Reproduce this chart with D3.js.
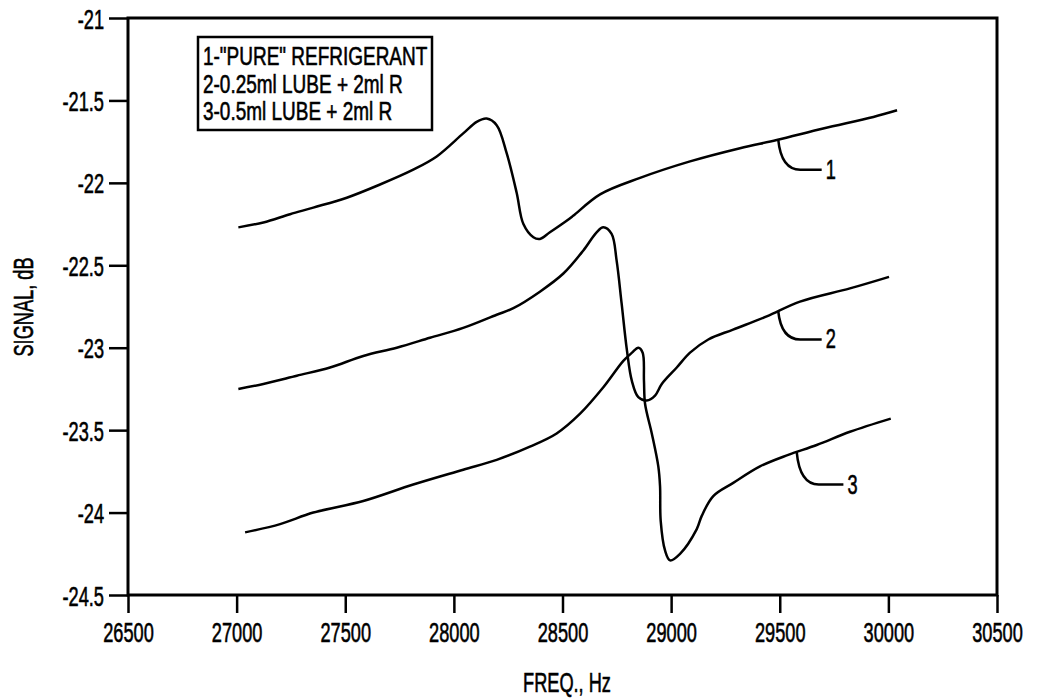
<!DOCTYPE html>
<html>
<head>
<meta charset="utf-8">
<script src="https://cdn.jsdelivr.net/npm/d3@7"></script>
<style>
    body { margin: 0; background: #fff; }
    svg { display: block; }
    text { font-family: "Liberation Sans", Arial, sans-serif; fill: #000; stroke: #000; stroke-width: 0.6px; }
</style>
</head>
<body>
<svg id="chart" width="1038" height="699"></svg>
<script>
// tick values
var xTicks = [26500, 27000, 27500, 28000, 28500, 29000, 29500, 30000, 30500];
var yTicks = [-21, -21.5, -22, -22.5, -23, -23.5, -24, -24.5];

// curve 1 - "pure" refrigerant
var freq1 = [27008, 27123, 27246, 27353, 27507, 27660, 27813, 27921, 28043, 28105, 28151, 28197, 28243, 28289,
    28320, 28366, 28396, 28442, 28519, 28549, 28673, 28857, 29087, 29317, 29486, 29700, 29931, 30040];
var sig1 = [-22.27, -22.24, -22.19, -22.15, -22.09, -22.01, -21.92, -21.84, -21.70, -21.63, -21.61, -21.65, -21.82, -22.06,
    -22.25, -22.33, -22.34, -22.30, -22.23, -22.20, -22.07, -21.97, -21.87, -21.79, -21.74, -21.67, -21.60, -21.56];

// curve 2 - 0.25ml lube + 2ml R
var freq2 = [27008, 27123, 27277, 27430, 27583, 27737, 27890, 28043, 28197, 28274, 28396, 28504, 28596, 28657, 28688, 28726,
    28749, 28772, 28796, 28819, 28849, 28888, 28926, 28957, 29026, 29087, 29171, 29285, 29440, 29593, 29823, 30003];
var sig2 = [-23.25, -23.22, -23.17, -23.12, -23.05, -23.00, -22.94, -22.88, -22.80, -22.76, -22.66, -22.55, -22.41, -22.30, -22.27, -22.31,
    -22.47, -22.73, -23.01, -23.20, -23.30, -23.32, -23.29, -23.22, -23.12, -23.03, -22.95, -22.89, -22.81, -22.72, -22.64, -22.57];

// curve 3 - 0.5ml lube + 2ml R
var freq3 = [27039, 27200, 27353, 27583, 27813, 28043, 28197, 28350, 28473, 28581, 28688, 28780, 28820, 28849, 28869, 28875, 28880,
    28911, 28941, 28949, 28952, 28972, 28995, 29041, 29118, 29141, 29194, 29286, 29409, 29539, 29670, 29823, 30011];
var sig3 = [-24.12, -24.07, -24.00, -23.93, -23.83, -23.74, -23.68, -23.60, -23.52, -23.40, -23.24, -23.08, -23.03, -23.00, -23.03, -23.20, -23.34,
    -23.52, -23.72, -23.84, -24.05, -24.23, -24.29, -24.25, -24.10, -24.02, -23.90, -23.82, -23.72, -23.65, -23.59, -23.51, -23.43];

// curve callouts
var curveNames = ["1", "2", "3"];
var leaderFreq = [29493, 29493, 29578];
var labelFreq = [29693, 29693, 29793];
var labelSig = [-21.92, -22.95, -23.83];

var legendLines = ['1-"PURE" REFRIGERANT', "2-0.25ml LUBE + 2ml R", "3-0.5ml LUBE + 2ml R"];

window.onload = function() {
    var svg = d3.select("#chart");

    var x = d3.scaleLinear().domain([26500, 30500]).range([128, 997]);
    var y = d3.scaleLinear().domain([-24.5, -21]).range([595, 18]);

    var series = [[freq1, sig1], [freq2, sig2], [freq3, sig3]].map(function(s) {
        return s[0].map(function(f, i) { return [f, s[1][i]]; });
    });

    // axes
    var yAxis = svg.append("g")
        .attr("transform", "translate(128,0)")
        .call(d3.axisLeft(y).tickValues(yTicks).tickSize(19).tickSizeOuter(0)
            .tickFormat(function(d) { return String(d); }));
    yAxis.select(".domain").remove();
    yAxis.selectAll("line").attr("stroke", "#000").attr("stroke-width", 2.5);
    yAxis.selectAll("text")
        .attr("x", null).attr("dy", null)
        .attr("transform", "translate(-24,10) scale(0.65,1)")
        .style("font-size", "28px").style("font-family", "Liberation Sans, Arial, sans-serif");

    var xAxis = svg.append("g")
        .attr("transform", "translate(0,595)")
        .call(d3.axisBottom(x).tickValues(xTicks).tickSize(18).tickSizeOuter(0)
            .tickFormat(function(d) { return String(d); }));
    xAxis.select(".domain").remove();
    xAxis.selectAll("line").attr("stroke", "#000").attr("stroke-width", 2.5);
    xAxis.selectAll("text")
        .attr("y", null).attr("dy", null)
        .attr("transform", "translate(0,47) scale(0.65,1)")
        .style("font-size", "28px").style("font-family", "Liberation Sans, Arial, sans-serif");

    // frame
    svg.append("rect")
        .attr("x", x(26500)).attr("y", y(-21))
        .attr("width", x(30500) - x(26500)).attr("height", y(-24.5) - y(-21))
        .attr("fill", "none").attr("stroke", "#000").attr("stroke-width", 3);

    // axis titles
    svg.append("text")
        .attr("text-anchor", "middle")
        .attr("transform", "translate(33,307) rotate(-90) scale(0.65,1)")
        .style("font-size", "28px")
        .text("SIGNAL, dB");
    svg.append("text")
        .attr("text-anchor", "middle")
        .attr("transform", "translate(567,692) scale(0.65,1)")
        .style("font-size", "28px")
        .text("FREQ., Hz");

    // curves
    var line = d3.line()
        .x(function(d) { return x(d[0]); })
        .y(function(d) { return y(d[1]); })
        .curve(d3.curveCatmullRom.alpha(0.5));

    svg.selectAll("path.curve").data(series)
        .enter().append("path")
        .attr("class", "curve")
        .attr("d", line)
        .attr("fill", "none").attr("stroke", "#000").attr("stroke-width", 2.5)
        .attr("stroke-linejoin", "round");

    // callouts
    var bis = d3.bisector(function(d) { return d[0]; }).left;
    function sigAt(s, f) {
        var i = bis(s, f);
        var a = s[i - 1], b = s[i];
        return a[1] + (b[1] - a[1]) * (f - a[0]) / (b[0] - a[0]);
    }

    curveNames.forEach(function(name, i) {
        var ax = x(leaderFreq[i]), ay = y(sigAt(series[i], leaderFreq[i]));
        var ex = x(labelFreq[i]), ey = y(labelSig[i]);
        svg.append("path")
            .attr("d", "M" + ax + "," + ay + " Q" + (ax + 3) + "," + ey + " " + (ax + 22) + "," + ey + " L" + ex + "," + ey)
            .attr("fill", "none").attr("stroke", "#000").attr("stroke-width", 2.5);
        svg.append("text")
            .attr("transform", "translate(" + (ex + 4) + "," + (ey + 9) + ") scale(0.65,1)")
            .style("font-size", "28px")
            .text(name);
    });

    // legend box
    var legend = svg.append("g");
    legend.append("rect")
        .attr("x", 198).attr("y", 37).attr("width", 234).attr("height", 93)
        .attr("fill", "#fff").attr("stroke", "#000").attr("stroke-width", 2.5);
    legend.selectAll("text").data(legendLines)
        .enter().append("text")
        .attr("transform", function(d, i) { return "translate(203," + (65 + i * 27.5) + ") scale(0.73,1)"; })
        .style("font-size", "26px")
        .text(function(d) { return d; });
};
</script>
</body>
</html>
